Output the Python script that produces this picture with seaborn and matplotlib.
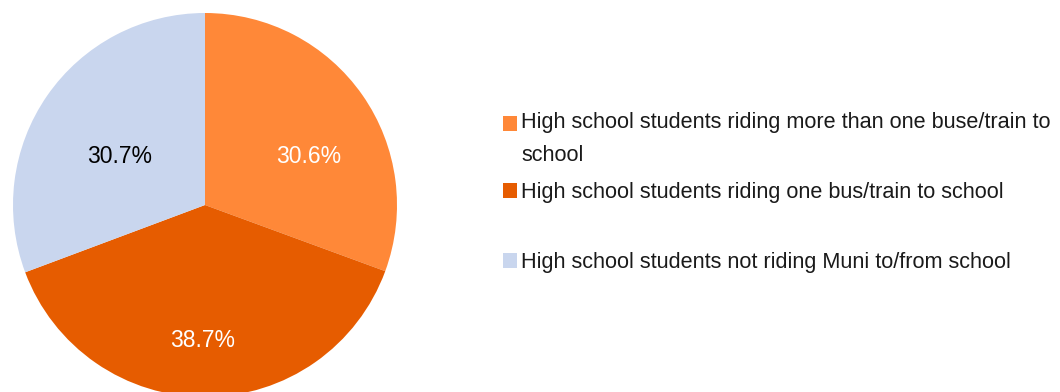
import matplotlib
matplotlib.use("Agg")
import matplotlib.pyplot as plt
import seaborn as sns
from matplotlib import font_manager
from matplotlib.patches import Patch, Rectangle
from matplotlib.legend_handler import HandlerPatch

# ---- data ----
categories = [
    "High school students riding more than one buse/train to\nschool",
    "High school students riding one bus/train to school",
    "High school students not riding Muni to/from school",
]
values = [30.6, 38.7, 30.7]
value_labels = ["30.6%", "38.7%", "30.7%"]

# ---- style ----
sns.set_style("white")
names = {f.name for f in font_manager.fontManager.ttflist}
narrow = "Liberation Sans Narrow" if "Liberation Sans Narrow" in names else "Liberation Sans"
plt.rcParams["font.family"] = ["Liberation Sans", "DejaVu Sans"]

palette = sns.color_palette(["#FF8838", "#E65C00", "#C9D6EE"])
label_colors = ["white", "white", "black"]
# label anchor positions in pie-radius units (layout, Excel best-fit placement)
label_pos = [(0.542, 0.219), (-0.013, -0.740), (-0.443, 0.219)]

W, H = 1060, 392
fig = plt.figure(figsize=(W / 100, H / 100), dpi=100)
cx, cy, r = 205, 205, 192
ax = fig.add_axes([(cx - r) / W, (H - cy - r) / H, 2 * r / W, 2 * r / H])
wedges, _ = ax.pie(values, colors=palette, startangle=90, counterclock=False,
                   radius=1, wedgeprops=dict(linewidth=0))
ax.set_xlim(-1, 1)
ax.set_ylim(-1, 1)
ax.axis("off")

lab_size = 18.5 if narrow != "Liberation Sans" else 16.5
for txt, (x, y), c in zip(value_labels, label_pos, label_colors):
    ax.text(x, y, txt, ha="center", va="baseline", color=c,
            fontsize=lab_size, family=[narrow, "DejaVu Sans"])

# ---- legend ----
fs = 15.6
first_line_offset = 0.745  # fraction of fontsize to lift the handle of a 2-line entry


def shifted_square(legend, orig_handle, xdescent, ydescent, width, height, fontsize):
    return Rectangle((-xdescent, -ydescent + first_line_offset * fontsize), width, height)


legend_tops = [112, 182, 252]  # px from top (layout)
for lab, col, top in zip(categories, palette, legend_tops):
    handle = Patch(facecolor=col, edgecolor="none", label=lab)
    hmap = {}
    if "\n" in lab:
        hmap = {handle: HandlerPatch(patch_func=shifted_square)}
    leg = fig.legend(handles=[handle], loc="upper left",
                     bbox_to_anchor=(503 / W, 1 - top / H), bbox_transform=fig.transFigure,
                     frameon=False, borderpad=0, borderaxespad=0,
                     handlelength=0.65, handleheight=0.65, handletextpad=0.19,
                     fontsize=fs, handler_map=hmap)
    for t in leg.get_texts():
        t.set_linespacing(1.76)
        t.set_color("#1a1a1a")

fig.savefig("out.png", dpi=100, facecolor="white")
